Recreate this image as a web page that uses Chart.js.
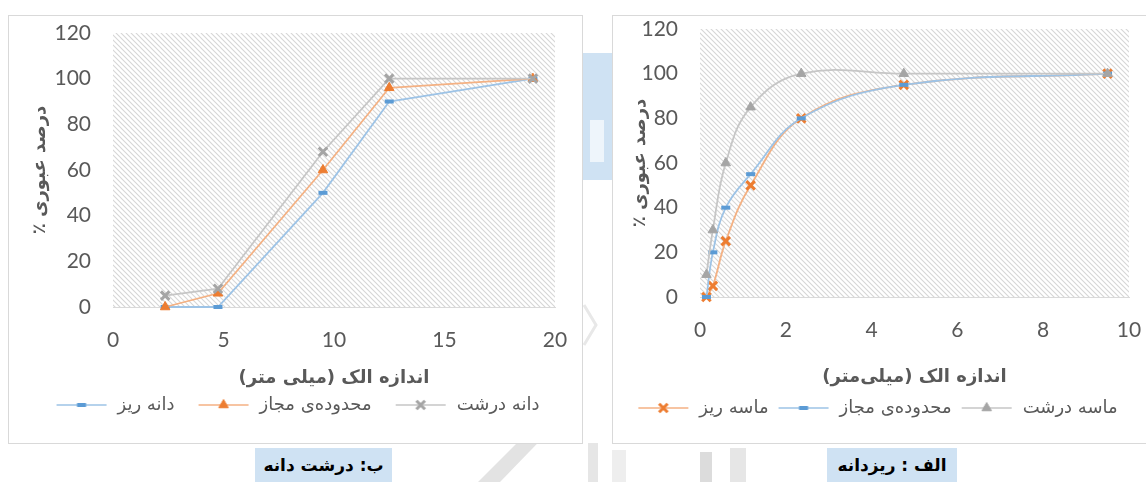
<!DOCTYPE html>
<html>
<head>
<meta charset="utf-8">
<script src="https://cdn.jsdelivr.net/npm/chart.js@4.4.1/dist/chart.umd.min.js"></script>
<style>
  body { margin: 0; width: 1146px; height: 482px; overflow: hidden; position: relative; background: #fff; }
  .box { position: absolute; top: 15px; height: 427px; border: 1px solid #d9d9d9; background: #fff; }
  #boxB { left: 8px; width: 573px; }
  #boxA { left: 612px; width: 553px; }
  canvas { display: block; }
  .cap { position: absolute; top: 448px; height: 34px; line-height: 34px; text-align: center; direction: rtl;
         font-family: 'DejaVu Sans'; font-weight: bold; font-size: 17px; color: #000; background: #cfe2f3; }
  .deco { position: absolute; }
</style>
</head>
<body>
<!-- watermark fragments showing between the two panels -->
<div class="deco" style="left:583px;top:53px;width:29px;height:127px;background:#cfe2f3"></div>
<div class="deco" style="left:590px;top:120px;width:14px;height:42px;background:#eef5fb"></div>
<svg class="deco" style="left:0;top:0" width="1146" height="482">
  <polygon points="478,482 500,482 560,420 540,420" fill="#e3e3e3"/>
  <rect x="588" y="443" width="10" height="39" fill="#e6e6e6"/>
  <rect x="612" y="450" width="14" height="32" fill="#eeeeee"/>
  <rect x="700" y="452" width="12" height="30" fill="#dcdcdc"/>
  <rect x="730" y="448" width="16" height="34" fill="#e6e6e6"/>
  <polyline points="584,305 596,325 584,345" fill="none" stroke="#e8e8e8" stroke-width="3"/>
</svg>

<div class="box" id="boxB"><canvas id="coarse" width="573" height="427"></canvas></div>
<div class="box" id="boxA"><canvas id="sand" width="553" height="427"></canvas></div>

<div class="cap" style="left:255px;width:137px">ب: درشت دانه</div>
<div class="cap" style="left:827px;width:130px">الف : ریزدانه</div>

<script>
// درشت دانه: اندازه الک (mm) و درصد عبوری
const coarseSieves = [2.36, 4.75, 9.5, 12.5, 19];
const coarseFine   = [0, 0, 50, 90, 100];     // دانه ریز
const coarseLimit  = [0, 6, 60, 96, 100];     // محدوده‌ی مجاز
const coarseCoarse = [5, 8, 68, 100, 100];    // دانه درشت
const coarseXTicks = [0, 5, 10, 15, 20];

// ریزدانه
const sandSieves = [0.15, 0.3, 0.6, 1.18, 2.36, 4.75, 9.5];
const sandFine   = [0, 5, 25, 50, 80, 95, 100];     // ماسه ریز
const sandLimit  = [0, 20, 40, 55, 80, 95, 100];    // محدوده‌ی مجاز
const sandCoarse = [10, 30, 60, 85, 100, 100, 100]; // ماسه درشت
const sandXTicks = [0, 2, 4, 6, 8, 10];

const yTicks = [0, 20, 40, 60, 80, 100, 120];

const BLUE   = { line: '#9dc3e6', mark: '#5b9bd5' };
const ORANGE = { line: '#f4b183', mark: '#ed7d31' };
const GREY   = { line: '#c6c6c6', mark: '#a5a5a5' };

const MARKERS = {
  line:     { r: 4.5, bw: 4 },
  triangle: { r: 5.5, bw: 1 },
  crossRot: { r: 6,   bw: 3 }
};

const TEXT = '#595959';
const FA = 'DejaVu Sans';

// diagonal hatch for the plot area
const hatchTile = (function () {
  const c = document.createElement('canvas');
  c.width = 5; c.height = 5;
  const g = c.getContext('2d');
  g.strokeStyle = '#d6d6d6';
  g.lineWidth = 1.1;
  g.beginPath();
  g.moveTo(-1, -1); g.lineTo(6, 6);
  g.moveTo(-1, 4); g.lineTo(1, 6);
  g.moveTo(4, -1); g.lineTo(6, 1);
  g.stroke();
  return c;
})();

const hatchPlugin = {
  id: 'hatch',
  beforeDraw(chart) {
    const { ctx, chartArea: a } = chart;
    ctx.save();
    ctx.fillStyle = ctx.createPattern(hatchTile, 'repeat');
    ctx.fillRect(a.left, a.top, a.right - a.left, a.bottom - a.top);
    ctx.restore();
  }
};

function drawMarker(g, style, x, y) {
  const m = MARKERS[style];
  g.lineWidth = m.bw;
  g.beginPath();
  if (style === 'line') {
    g.moveTo(x - m.r, y); g.lineTo(x + m.r, y);
    g.stroke();
  } else if (style === 'triangle') {
    let a = 0;
    g.moveTo(x + Math.sin(a) * m.r, y - Math.cos(a) * m.r);
    a += Math.PI * 2 / 3; g.lineTo(x + Math.sin(a) * m.r, y - Math.cos(a) * m.r);
    a += Math.PI * 2 / 3; g.lineTo(x + Math.sin(a) * m.r, y - Math.cos(a) * m.r);
    g.closePath(); g.fill(); g.stroke();
  } else {
    const d = m.r * Math.SQRT1_2;
    g.moveTo(x - d, y - d); g.lineTo(x + d, y + d);
    g.moveTo(x + d, y - d); g.lineTo(x - d, y + d);
    g.stroke();
  }
}

// legend swatch: blank lead-in, then a short line with the marker on it
function legendSample(ds, lead) {
  const c = document.createElement('canvas');
  c.width = lead + 52; c.height = 16;
  const g = c.getContext('2d');
  g.strokeStyle = ds.borderColor;
  g.lineWidth = 1.5;
  g.beginPath(); g.moveTo(lead, 8); g.lineTo(lead + 50, 8); g.stroke();
  g.fillStyle = ds.pointBackgroundColor;
  g.strokeStyle = ds.pointBorderColor;
  drawMarker(g, ds.pointStyle, lead + 25, 8);
  return c;
}

function series(label, xs, ys, col, style, tension) {
  const m = MARKERS[style];
  return {
    label: label,
    data: xs.map((x, i) => ({ x: x, y: ys[i] })),
    borderColor: col.line,
    borderWidth: 1.8,
    pointStyle: style,
    pointRadius: m.r,
    pointBorderWidth: m.bw,
    pointBackgroundColor: col.mark,
    pointBorderColor: col.mark,
    tension: tension,
    clip: false
  };
}

function makeChart(id, datasets, xTicks, xMax, geo) {
  return new Chart(document.getElementById(id), {
    type: 'line',
    data: { datasets: datasets },
    plugins: [hatchPlugin],
    options: {
      responsive: false,
      animation: false,
      devicePixelRatio: 1,
      events: [],
      layout: { padding: { top: geo.top, right: geo.right, bottom: geo.bottom, left: geo.left } },
      plugins: {
        tooltip: { enabled: false },
        legend: {
          position: 'bottom',
          labels: {
            usePointStyle: true,
            pointStyleWidth: geo.lead + 52,
            padding: 4,
            color: TEXT,
            font: { family: FA, size: 18 },
            generateLabels: chart => chart.data.datasets.map((ds, i) => ({
              text: ds.label,
              pointStyle: legendSample(ds, geo.lead),
              fillStyle: ds.pointBackgroundColor,
              strokeStyle: ds.borderColor,
              lineWidth: 0,
              fontColor: TEXT,
              hidden: false,
              datasetIndex: i
            })).reverse()
          }
        }
      },
      scales: {
        x: {
          type: 'linear',
          min: 0, max: xMax,
          afterBuildTicks: s => { s.ticks = xTicks.map(v => ({ value: v })); },
          afterFit: s => { s.height = geo.xh; s.paddingLeft = 0; s.paddingRight = 0; },
          grid: { display: false, drawTicks: false, tickLength: 0 },
          border: { display: true, color: '#d9d9d9', width: 1 },
          ticks: { padding: 20.5, color: TEXT, font: { family: 'Lato', size: 21 }, maxRotation: 0 },
          title: {
            display: true,
            text: '\u202B' + geo.xTitle + '\u202C',
            color: TEXT,
            font: { family: FA, size: 18, weight: 'bold' },
            padding: { top: 0, bottom: geo.xtp }
          }
        },
        y: {
          min: 0, max: 120,
          afterBuildTicks: s => { s.ticks = yTicks.map(v => ({ value: v })); },
          afterFit: s => { s.width = geo.yw; s.paddingTop = 0; s.paddingBottom = 0; },
          grid: { display: false, drawTicks: false, tickLength: 0 },
          border: { display: false },
          ticks: { padding: 22, color: TEXT, font: { family: 'Lato', size: 21 } },
          title: {
            display: true,
            text: '\u202Bدرصد عبوری ٪\u202C',
            color: TEXT,
            font: { family: FA, size: 18, weight: 'bold' },
            padding: { top: geo.ytp, bottom: 0 }
          }
        }
      }
    }
  });
}

makeChart('coarse', [
  series('دانه درشت', coarseSieves, coarseCoarse, GREY, 'crossRot', 0),
  series('محدوده‌ی مجاز', coarseSieves, coarseLimit, ORANGE, 'triangle', 0),
  series('دانه ریز', coarseSieves, coarseFine, BLUE, 'line', 0)
], coarseXTicks, 20, {
  top: 17, right: 27, bottom: 19, left: 12, yw: 92, xh: 85, xtp: 3, ytp: 9, lead: 20,
  xTitle: 'اندازه الک (میلی متر)'
});

makeChart('sand', [
  series('ماسه درشت', sandSieves, sandCoarse, GREY, 'triangle', 0.4),
  series('محدوده‌ی مجاز', sandSieves, sandLimit, BLUE, 'line', 0.4),
  series('ماسه ریز', sandSieves, sandFine, ORANGE, 'crossRot', 0.4)
], sandXTicks, 10, {
  top: 13, right: 37, bottom: 16, left: 8, yw: 79, xh: 98, xtp: 7, ytp: 9, lead: 6,
  xTitle: 'اندازه الک (میلی‌متر)'
});
</script>
</body>
</html>
